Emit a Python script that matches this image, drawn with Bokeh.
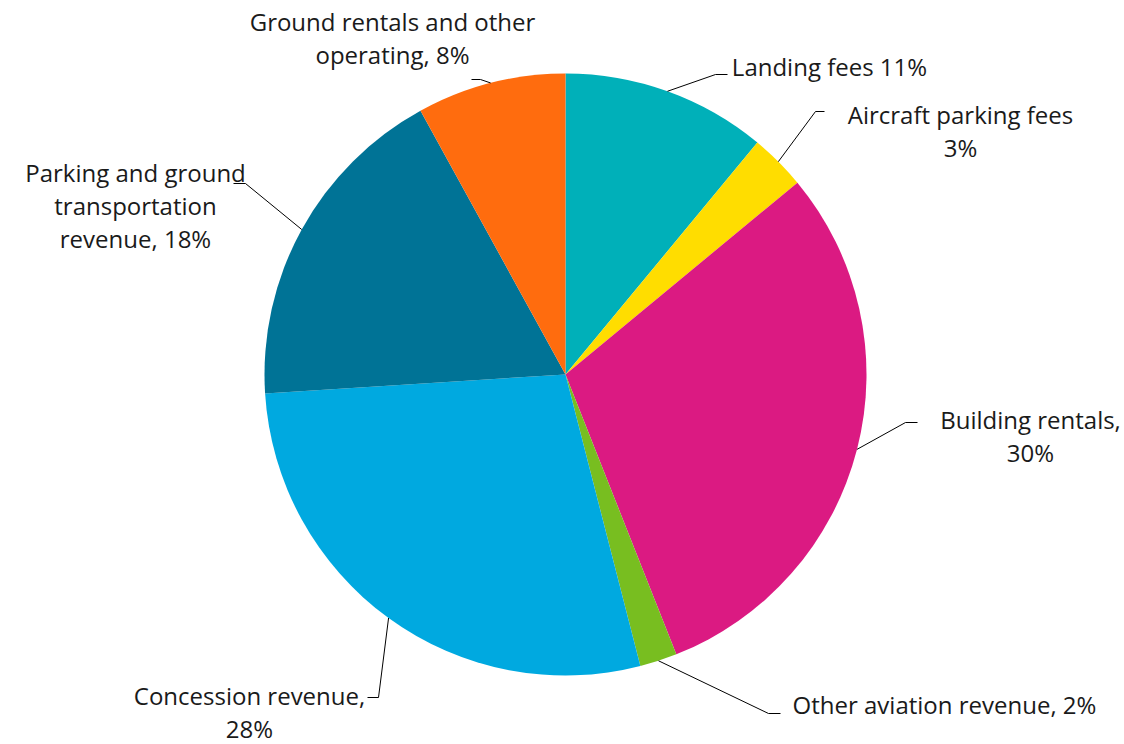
import math
from bokeh.plotting import figure
from bokeh.models import Range1d, ColumnDataSource
from bokeh.core.properties import value
from bokeh.embed import file_html
from bokeh.resources import INLINE

# Revenue shares by source (percent), clockwise from 12 o'clock
categories = [
    "Landing fees",
    "Aircraft parking fees",
    "Building rentals",
    "Other aviation revenue",
    "Concession revenue",
    "Parking and ground transportation revenue",
    "Ground rentals and other operating",
]
shares = [11, 3, 30, 2, 28, 18, 8]
colors = ["#00B0B9", "#FFDD00", "#DB1A82", "#78BE20", "#00A9E0", "#007396", "#FF6C0E"]

# Label text lines for each slice
label_lines = [
    ["Landing fees 11%"],
    ["Aircraft parking fees", "3%"],
    ["Building rentals,", "30%"],
    ["Other aviation revenue, 2%"],
    ["Concession revenue,", "28%"],
    ["Parking and ground", "transportation", "revenue, 18%"],
    ["Ground rentals and other", "operating, 8%"],
]

W, H = 1124, 744
CX, CY, R = 565, 374, 301

# Label layout in page pixels (top-left origin): text centre x, first line y,
# leader elbow point and leader end point
label_layout = [
    dict(tx=829, ty=66, elbow=(715, 74), end=(727, 74)),
    dict(tx=960, ty=114, elbow=(815, 111), end=(824, 111)),
    dict(tx=1030, ty=419, elbow=(905, 422), end=(917, 422)),
    dict(tx=944, ty=704, elbow=(768, 713), end=(780, 713)),
    dict(tx=249, ty=695, elbow=(378, 697), end=(367, 697)),
    dict(tx=135, ty=172, elbow=(245, 183), end=(233, 183)),
    dict(tx=392, ty=21, elbow=(480, 79), end=(471, 79)),
]
LINE_GAP = 33


def fy(py):
    return H - py


p = figure(width=W, height=H, output_backend="svg", toolbar_location=None,
           x_range=Range1d(0, W), y_range=Range1d(0, H),
           x_axis_location=None, y_axis_location=None, min_border=0,
           outline_line_color=None, background_fill_color="white",
           border_fill_color="white")
p.xgrid.visible = False
p.ygrid.visible = False

total = float(sum(shares))
starts, ends, mids = [], [], []
cum = 0.0
for s in shares:
    a0 = math.pi / 2 - 2 * math.pi * cum / total
    cum += s
    a1 = math.pi / 2 - 2 * math.pi * cum / total
    starts.append(a1)
    ends.append(a0)
    mids.append((a0 + a1) / 2)

src = ColumnDataSource(dict(x=[CX] * len(shares), y=[fy(CY)] * len(shares),
                            start=starts, end=ends, color=colors, cat=categories,
                            share=shares))
p.wedge(x="x", y="y", radius=R, start_angle="start", end_angle="end",
        fill_color="color", line_color=None, source=src)

# Leader lines from each slice's mid-angle on the rim to its label
xs, ys = [], []
for m, lay in zip(mids, label_layout):
    sx = CX + R * math.cos(m)
    sy = fy(CY) + R * math.sin(m)
    ex, ey = lay["elbow"]
    nx, ny = lay["end"]
    xs.append([sx, ex, nx])
    ys.append([sy, fy(ey), fy(ny)])
p.multi_line(xs=xs, ys=ys, line_color="black", line_width=1)

tx, ty, tt = [], [], []
for lines, lay in zip(label_lines, label_layout):
    for i, t in enumerate(lines):
        tx.append(lay["tx"])
        ty.append(fy(lay["ty"] + i * LINE_GAP))
        tt.append(t)
p.text(x=tx, y=ty, text=tt, text_font=value("Open Sans"), text_font_size="24px",
       text_align="center", text_baseline="middle", text_color="#1a1a1a")

open("out.html", "w").write(file_html(p, INLINE))
